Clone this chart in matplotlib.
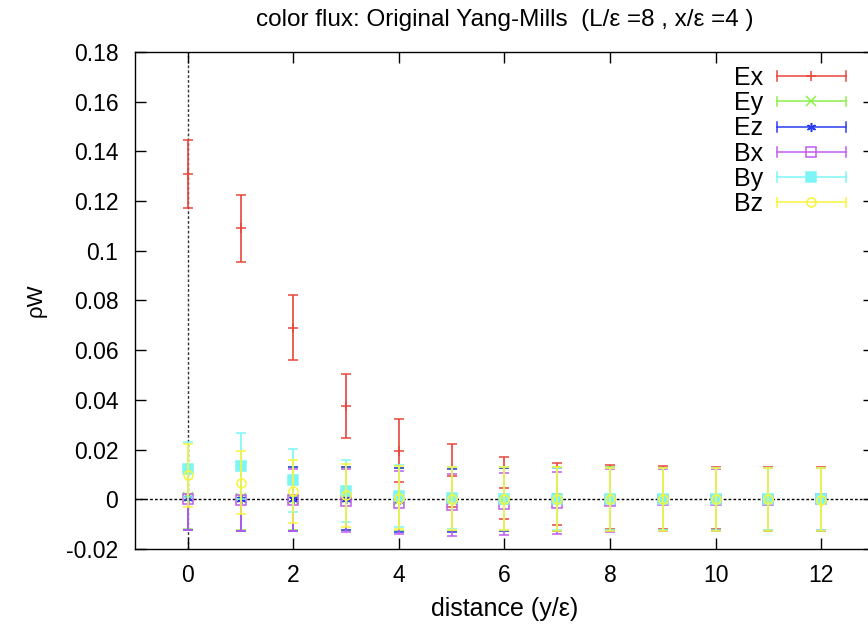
import matplotlib
matplotlib.use("Agg")
import matplotlib.pyplot as plt
from matplotlib.lines import Line2D
from matplotlib.legend_handler import HandlerBase
from matplotlib.container import ErrorbarContainer

# data
dist = [0, 1, 2, 3, 4, 5, 6, 7, 8, 9, 10, 11, 12]

Ex = [0.131, 0.109, 0.069, 0.0375, 0.0196, 0.0095, 0.0047, 0.0023, 0.0009, 0.0008, 0.0004, 0.0003, 0.0001]
Ex_err = [0.0136, 0.0134, 0.0131, 0.0130, 0.0126, 0.0126, 0.0125, 0.0125, 0.0128, 0.0126, 0.0125, 0.0125, 0.0127]
Ey = [0.0008, 0.0004, 0.0003, 0.0004, -0.0002, -0.0002, -0.0001, 0.0001, 0.0003, 0.0001, 0.0, 0.0001, 0.0]
Ey_err = [0.0129, 0.0128, 0.0128, 0.0127, 0.0127, 0.0127, 0.0127, 0.0127, 0.0127, 0.0126, 0.0126, 0.0126, 0.0126]
Ez = [0.0005, 0.0002, 0.0001, 0.0002, -0.0003, -0.0004, -0.0002, -0.0002, -0.0001, 0.0, 0.0001, 0.0, -0.0001]
Ez_err = [0.0129, 0.0128, 0.0128, 0.0127, 0.0127, 0.0127, 0.0127, 0.0127, 0.0127, 0.0126, 0.0126, 0.0126, 0.0126]
Bx = [0.0, -0.0003, -0.0002, -0.0005, -0.0013, -0.0024, -0.0020, -0.0015, -0.0005, -0.0003, -0.0002, -0.0001, 0.0]
Bx_err = [0.0125, 0.0125, 0.0125, 0.0125, 0.0125, 0.0125, 0.0125, 0.0125, 0.0125, 0.0125, 0.0125, 0.0125, 0.0125]
By = [0.012, 0.0134, 0.0076, 0.0033, 0.0015, 0.0005, 0.0003, 0.0002, 0.0001, 0.0001, 0.0, 0.0, 0.0]
By_err = [0.011, 0.0132, 0.0126, 0.0125, 0.0125, 0.0125, 0.0125, 0.0125, 0.0125, 0.0125, 0.0125, 0.0125, 0.0125]
Bz = [0.0097, 0.0066, 0.0033, 0.0016, 0.0006, 0.0003, 0.0002, 0.0001, 0.0, 0.0, 0.0, 0.0, -0.0002]
Bz_err = [0.0127, 0.0127, 0.0127, 0.0127, 0.0127, 0.0127, 0.0127, 0.0127, 0.0127, 0.0127, 0.0127, 0.0127, 0.0127]

names = ["Ex", "Ey", "Ez", "Bx", "By", "Bz"]
values = [Ex, Ey, Ez, Bx, By, Bz]
errors = [Ex_err, Ey_err, Ez_err, Bx_err, By_err, Bz_err]
colors = ["#e8463c", "#8cf04a", "#2a3cf0", "#c05cf0", "#7ef5f5", "#f5f53c"]
markers = ["+", "x", (6, 2, 0), "s", "s", "o"]
filled = [True, True, True, False, True, False]

plt.rcParams["font.family"] = ["Liberation Sans", "DejaVu Sans"]


class HorizErrHandler(HandlerBase):
    # gnuplot style key: horizontal line, end caps, point in the middle
    def create_artists(self, legend, orig_handle, xdescent, ydescent,
                       width, height, fontsize, trans):
        ln = orig_handle.lines[0]
        c = ln.get_color()
        y = height / 2 - ydescent
        x0, x1 = -xdescent, width - xdescent
        cap = 3.5
        arts = [Line2D([x0, x1], [y, y], color=c, lw=1.1),
                Line2D([x0, x0], [y - cap, y + cap], color=c, lw=1.1),
                Line2D([x1, x1], [y - cap, y + cap], color=c, lw=1.1),
                Line2D([(x0 + x1) / 2], [y], marker=ln.get_marker(), color=c,
                       mfc=ln.get_markerfacecolor(), mec=c, ms=ln.get_markersize(),
                       mew=1.1, lw=0)]
        for a in arts:
            a.set_transform(trans)
        return arts


fig = plt.figure(figsize=(8.68, 6.27), dpi=100)
ax = fig.add_axes([0.1555, 0.1244, 0.8514, 0.7927])

ax.axhline(0, color="black", lw=1.0, ls=(0, (2, 1.5)), zorder=1)
ax.axvline(0, color="#333333", lw=1.0, ls=(0, (2, 1.5)), zorder=1)

handles = []
for i, name in enumerate(names):
    h = ax.errorbar(dist, values[i], yerr=errors[i],
                    marker=markers[i], ls="none", color=colors[i],
                    mfc=colors[i] if filled[i] else "none", mec=colors[i], ms=6.5,
                    mew=1.1, elinewidth=1.2, capsize=3.5, capthick=1.2,
                    label=name, zorder=2 + i)
    handles.append(h)

ax.set_xlim(-1, 13)
ax.set_ylim(-0.02, 0.18)
ax.set_xticks([0, 2, 4, 6, 8, 10, 12])
ax.set_yticks([-0.02, 0, 0.02, 0.04, 0.06, 0.08, 0.1, 0.12, 0.14, 0.16, 0.18])
ax.set_yticklabels(["-0.02", "0", "0.02", "0.04", "0.06", "0.08", "0.1",
                    "0.12", "0.14", "0.16", "0.18"])
ax.tick_params(direction="in", length=8, width=1, top=True, right=True,
               labelsize=16.5)
ax.tick_params(axis="y", pad=12)
ax.tick_params(axis="x", pad=11)
for s in ax.spines.values():
    s.set_linewidth(1.0)

ax.set_title("color flux: Original Yang-Mills  (L/ε =8 , x/ε =4 )",
             fontsize=17.5, pad=19)
ax.set_xlabel("distance (y/ε)", fontsize=18, labelpad=7)
ax.set_ylabel("ρW", fontsize=16, labelpad=14)

ax.legend(handles, names, handler_map={ErrorbarContainer: HorizErrHandler()},
          loc="upper right", bbox_to_anchor=(0.9756, 0.992), frameon=False,
          markerfirst=False, fontsize=18, handlelength=2.76, handletextpad=0.56,
          labelspacing=0.05, borderaxespad=0.0)

plt.savefig("out.png", dpi=100)
